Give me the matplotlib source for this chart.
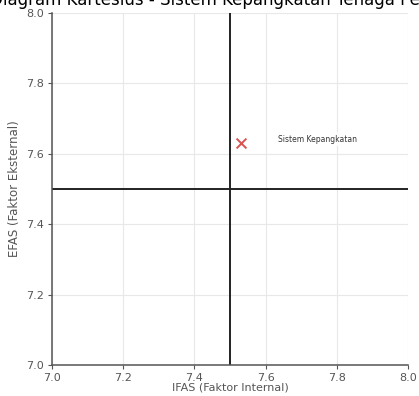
import matplotlib
matplotlib.use("Agg")
import matplotlib.pyplot as plt

# Data
ifas = [7.53]
efas = [7.63]
labels = ["Sistem Kepangkatan"]
mid_x = 7.5
mid_y = 7.5
ticks = [7.0, 7.2, 7.4, 7.6, 7.8, 8.0]

fig = plt.figure(figsize=(4.19, 3.96), dpi=100)
ax = fig.add_axes([0.124, 0.078, 0.850, 0.889])

ax.axhline(mid_y, color="#222222", linewidth=1.4)
ax.axvline(mid_x, color="#222222", linewidth=1.4)
ax.scatter(ifas, efas, marker="x", color="#d9534f", s=50, linewidths=1.4, zorder=3)
for x, y, t in zip(ifas, efas, labels):
    ax.text(x + 0.105, y + 0.012, t, fontsize=5.5, color="#333333", va="center",
            bbox=dict(facecolor="white", edgecolor="none", alpha=0.8, pad=2))

ax.set_xlim(7.0, 8.0)
ax.set_ylim(7.0, 8.0)
ax.set_xticks(ticks)
ax.set_yticks(ticks)
ax.tick_params(labelsize=8, colors="#555555", length=3, pad=2.5)
ax.grid(True, color="#e8e8e8", linewidth=0.8)
for s in ["left", "bottom"]:
    ax.spines[s].set_color("#555555")
    ax.spines[s].set_linewidth(1.1)
ax.spines["top"].set_visible(False)
ax.spines["right"].set_visible(False)
ax.set_xlabel("IFAS (Faktor Internal)", fontsize=8, color="#555555", labelpad=0)
ax.set_ylabel("EFAS (Faktor Eksternal)", fontsize=8.5, color="#555555", labelpad=4)
ax.set_title("Diagram Kartesius - Sistem Kepangkatan Tenaga Pendidik", fontsize=12, pad=5.5)

fig.savefig("out.png", dpi=100)
